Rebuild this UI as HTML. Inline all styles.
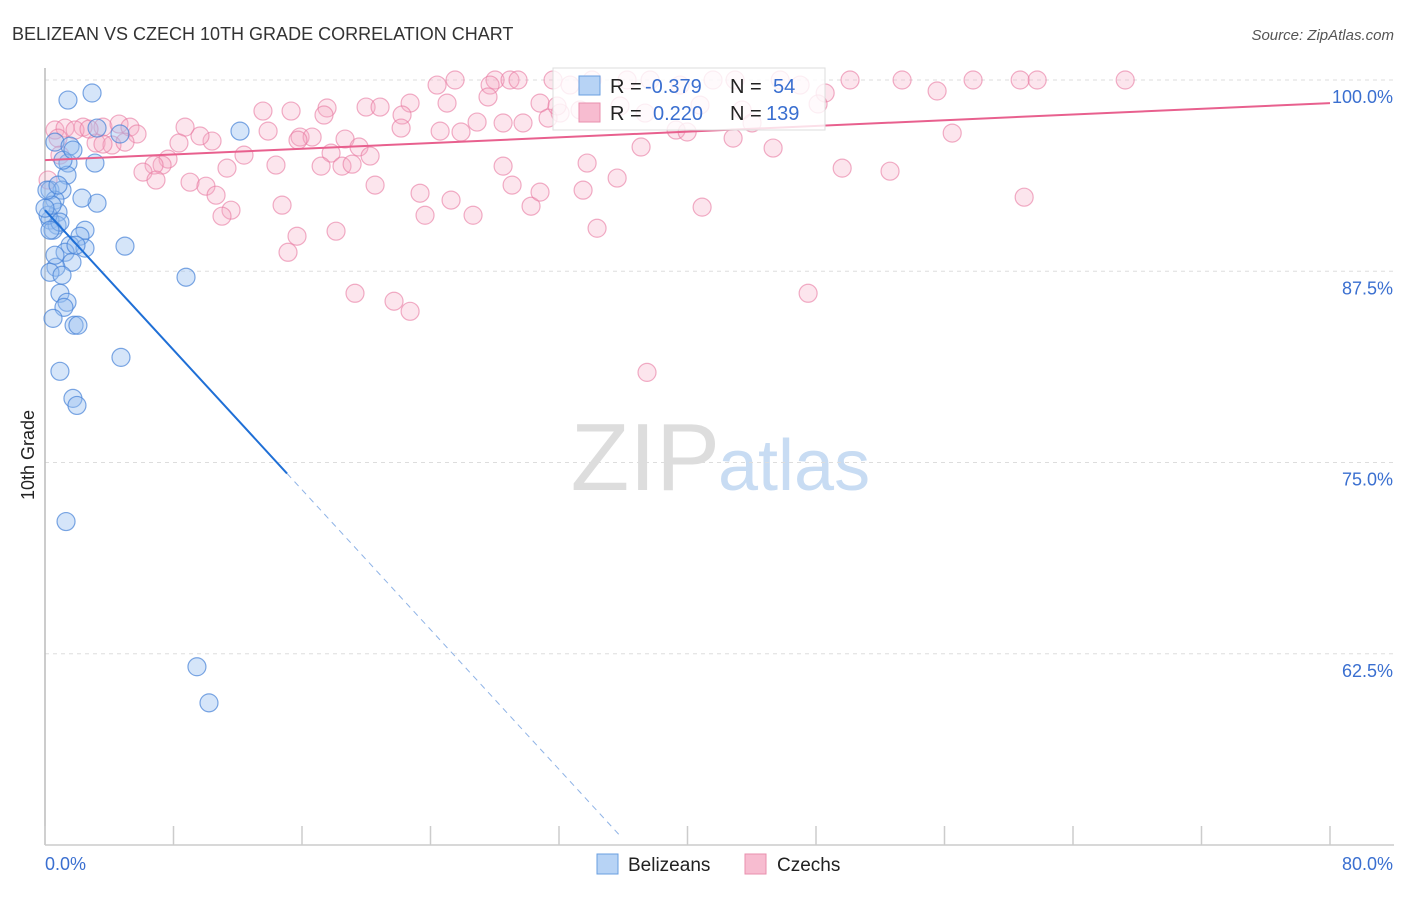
<!DOCTYPE html>
<html><head><meta charset="utf-8"><style>
body{margin:0;background:#fff;font-family:"Liberation Sans",sans-serif}
svg text{font-family:"Liberation Sans",sans-serif}
</style></head><body>
<svg id="chart" width="1406" height="892">
<text x="12" y="40" font-size="18" fill="#333">BELIZEAN VS CZECH 10TH GRADE CORRELATION CHART</text>
<text x="1394" y="40" font-size="15" fill="#555" text-anchor="end" font-style="italic">Source: ZipAtlas.com</text>
<text x="720" y="490" font-size="96" fill="#ddd" text-anchor="end" font-family="Liberation Serif">ZIP</text>
<text x="718" y="490" font-size="72" fill="#c8dcf3">atlas</text>
<text transform="translate(34,455) rotate(-90)" font-size="18" fill="#222" text-anchor="middle">10th Grade</text>
<g id="grid"></g><g id="marks"></g><g id="lines"></g>
<g>
<rect x="553" y="68" width="272" height="62" fill="#fff" fill-opacity="0.8" stroke="#ddd"/>
<rect x="579" y="76" width="21" height="19" fill="#b7d3f5" stroke="#6a9fe0"/>
<rect x="579" y="103" width="21" height="19" fill="#f7bcd0" stroke="#e88fae"/>
<text x="610" y="93" font-size="20" fill="#222">R = </text><text x="645" y="93" font-size="20" fill="#3a6fd0">-0.379</text>
<text x="730" y="93" font-size="20" fill="#222">N = </text><text x="773" y="93" font-size="20" fill="#3a6fd0">54</text>
<text x="610" y="120" font-size="20" fill="#222">R = </text><text x="653" y="120" font-size="20" fill="#3a6fd0">0.220</text>
<text x="730" y="120" font-size="20" fill="#222">N = </text><text x="766" y="120" font-size="20" fill="#3a6fd0">139</text>
</g>
<g>
<rect x="597" y="854" width="21" height="20" fill="#b7d3f5" stroke="#6a9fe0"/>
<text x="628" y="871" font-size="19" fill="#222">Belizeans</text>
<rect x="745" y="854" width="21" height="20" fill="#f7bcd0" stroke="#e88fae"/>
<text x="777" y="871" font-size="19" fill="#222">Czechs</text>
</g>
</svg>
<script>
const xTicks=[0,10,20,30,40,50,60,70,80];
const yTicks=[62.5,75,87.5,100];
const yTickLabels=["62.5%","75.0%","87.5%","100.0%"];
const blueX=[1.43,2.93,3.24,4.98,8.78,12.14,4.73,0.93,1.74,1.99,1.31,9.46,10.21,0.62,1.56,1.43,3.11,1.37,0.31,1.06,0.62,2.30,0.81,0.31,0.75,0.50,2.49,2.18,1.56,2.49,1.25,1.68,0.68,0.31,1.06,0.93,1.37,1.18,0.50,1.81,2.05,0.19,0.44,0.93,0,0.12,0.31,0.62,1.12,1.74,3.24,4.67,0.81,1.93];
const blueY=[98.69,99.15,91.95,89.14,87.11,96.66,81.87,80.96,79.19,78.73,71.14,61.65,59.29,95.94,95.68,94.57,94.57,93.78,92.80,92.80,92.15,92.28,91.36,90.84,90.51,90.18,90.18,89.79,89.20,89.01,88.74,88.09,87.76,87.43,87.24,86.06,85.47,85.14,84.42,83.97,83.97,91.16,91.82,90.71,91.62,92.80,90.18,88.55,94.76,95.42,96.86,96.47,93.13,89.20];
const pinkX=[24.41,25.53,28.02,28.95,29.45,31.63,32.69,34.06,36.24,37.67,39.54,41.59,42.96,45.77,47.01,48.57,50.12,53.36,55.54,57.78,60.71,61.77,67.25,27.71,27.58,30.82,32.07,33.31,35.80,37.36,40.78,43.40,44.02,48.13,19.99,20.86,22.73,25.03,17.56,17.37,13.57,15.32,22.23,26.90,28.52,29.76,31.32,31.88,22.17,24.60,25.90,13.89,15.88,16.63,15.75,18.68,19.55,20.24,17.81,17.19,18.49,19.12,14.38,12.39,11.33,10.40,9.65,8.72,8.34,7.66,7.29,6.79,6.10,6.91,9.03,10.02,10.65,11.58,11.02,14.76,15.69,15.13,18.12,20.55,23.35,23.66,25.28,26.65,29.08,30.26,30.82,33.50,34.37,35.62,33.75,28.52,37.11,39.29,39.98,42.84,45.33,49.63,52.61,56.48,40.91,60.96,47.51,19.30,21.73,22.73,37.48,0.62,1.25,2.37,3.61,4.61,5.29,5.73,1.87,3.18,4.17,4.98,0.93,0.81,0.19,3.61,2.74];
const pinkY=[99.67,100,100,100,100,100,99.67,100,100,100,99.67,100,100,100,99.67,99.15,100,100,99.28,100,100,100,100,99.67,98.89,98.49,97.84,98.04,98.30,97.84,98.36,98.04,97.19,98.43,98.23,98.23,98.49,98.49,98.17,97.71,97.97,97.97,97.71,97.25,97.19,97.19,97.51,98.30,96.86,96.66,96.60,96.66,96.27,96.27,96.07,96.14,95.62,95.03,95.22,94.37,94.37,94.50,94.44,95.09,94.24,96.01,96.34,96.92,95.88,94.83,94.44,94.44,93.98,93.46,93.32,93.06,92.47,91.49,91.10,91.82,89.79,88.74,90.12,93.13,92.60,91.16,92.15,91.16,93.13,91.75,92.67,92.80,90.31,93.59,94.57,94.37,95.62,96.73,96.60,96.20,95.55,94.24,94.04,96.53,91.69,92.34,86.06,86.06,85.54,84.88,80.89,96.73,96.86,96.92,96.92,97.12,96.92,96.47,96.73,95.88,95.75,95.94,95.09,96.20,93.46,95.81,96.79];
const blueTrend=[91.49,-1.142,15.07,35.8];
const pinkTrend=[94.76,98.49];
const NS='http://www.w3.org/2000/svg';
const X0=45,X1=1330,Y0=845,Y1=80;
function sx(v){return X0+(X1-X0)*v/80;}
function sy(v){return Y0-(Y0-Y1)*(v-50)/50;}
function mk(t,a,p){const e=document.createElementNS(NS,t);for(const k in a)e.setAttribute(k,a[k]);p.appendChild(e);return e;}
const grid=document.getElementById('grid'),marks=document.getElementById('marks'),lines=document.getElementById('lines');
yTicks.forEach((v,i)=>{
 const l=mk('line',{x1:X0,x2:1394,y1:sy(v),y2:sy(v),stroke:'#ddd','stroke-dasharray':'4,4'},grid);
 
 
 const t=mk('text',{x:1393,y:sy(v)+23,'font-size':18,fill:'#3a6fd0','text-anchor':'end'},grid);
 t.textContent=yTickLabels[i];
 
 
});
const ax=mk('line',{x1:X0,x2:1394,y1:Y0,y2:Y0,stroke:'#ccc','stroke-width':1.5},grid);


const ay=mk('line',{x1:X0,x2:X0,y1:68,y2:Y0,stroke:'#bbb','stroke-width':1.5},grid);


for(let i=0;i<=10;i++){const v=i*8;
 const tk=mk('line',{x1:sx(v),x2:sx(v),y1:826,y2:Y0,stroke:'#ccc','stroke-width':1.5},grid);
 
 }
[[0,'0.0%','start',45],[80,'80.0%','end',1393]].forEach(d=>{
 const t=mk('text',{x:d[3],y:870,'font-size':18,fill:'#3a6fd0','text-anchor':d[2]},grid);t.textContent=d[1];
 
 });
pinkX.forEach((x,i)=>{const c=mk('circle',{cx:sx(x),cy:sy(pinkY[i]),r:9,fill:'rgba(245,170,195,0.3)',stroke:'rgba(232,120,160,0.6)','stroke-width':1.2},marks);
 
 });
blueX.forEach((x,i)=>{const c=mk('circle',{cx:sx(x),cy:sy(blueY[i]),r:9,fill:'rgba(150,190,240,0.4)',stroke:'rgba(70,130,215,0.7)','stroke-width':1.2},marks);
 
 });
const bf=x=>blueTrend[0]+blueTrend[1]*x;
const b1=mk('line',{x1:sx(0),y1:sy(bf(0)),x2:sx(blueTrend[2]),y2:sy(bf(blueTrend[2])),stroke:'#1f6fd6','stroke-width':2},lines);


const b2=mk('line',{x1:sx(blueTrend[2]),y1:sy(bf(blueTrend[2])),x2:sx(blueTrend[3]),y2:sy(bf(blueTrend[3])),stroke:'#8fb3e6','stroke-width':1,'stroke-dasharray':'6,5'},lines);


const p1=mk('line',{x1:sx(0),y1:sy(pinkTrend[0]),x2:sx(80),y2:sy(pinkTrend[1]),stroke:'#e8608e','stroke-width':2},lines);


</script>
</body></html>
